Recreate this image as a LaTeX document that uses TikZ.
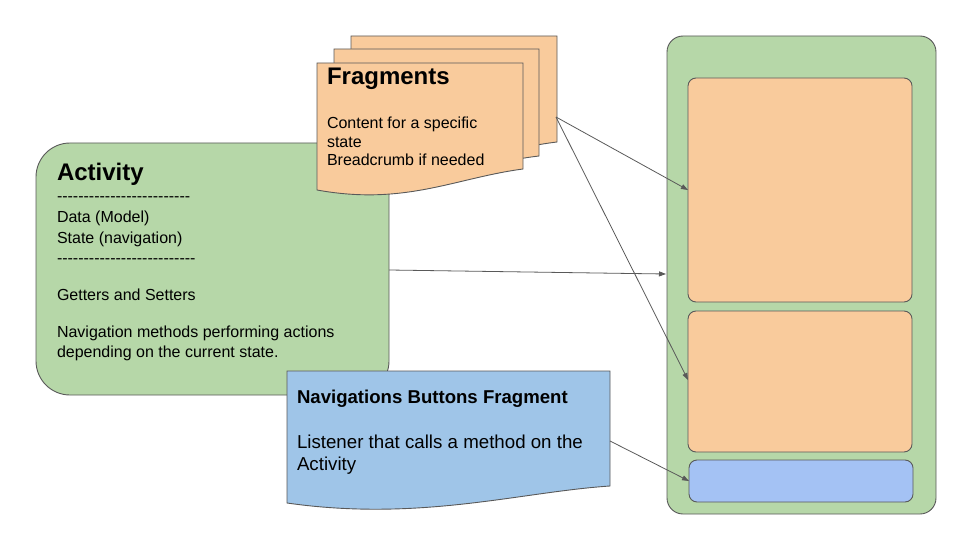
\documentclass[tikz,border=0pt]{standalone}
\usepackage{fontspec}
\setmainfont{Liberation Sans}
\usetikzlibrary{arrows.meta}
\definecolor{grn}{HTML}{B6D7A8}
\definecolor{org}{HTML}{F9CB9C}
\definecolor{navb}{HTML}{9FC5E8}
\definecolor{phb}{HTML}{A4C2F4}
\definecolor{edge}{HTML}{595959}
\tikzset{
  shp/.style={draw=edge, line width=0.9pt},
  txt/.style={anchor=base west, inner sep=0pt, outer sep=0pt, font=\fontsize{16}{19}\selectfont},
  ntx/.style={anchor=base west, inner sep=0pt, outer sep=0pt, font=\fontsize{18.7}{22}\selectfont},
  ttl/.style={anchor=base west, inner sep=0pt, outer sep=0pt, font=\fontsize{24}{28}\selectfont\bfseries},
  ntl/.style={anchor=base west, inner sep=0pt, outer sep=0pt, font=\fontsize{18.6}{22}\selectfont\bfseries},
  conn/.style={draw=edge, line width=0.8pt, -{Triangle[length=7pt,width=5pt]}}
}
\begin{document}
\begin{tikzpicture}[x=1pt,y=-1pt]
\useasboundingbox (0,0) rectangle (960,540);
% right phone
\draw[shp, fill=grn, rounded corners=16pt] (667,36) rectangle (936,514);
\draw[shp, fill=org, rounded corners=8pt] (688,78) rectangle (912,302);
\draw[shp, fill=org, rounded corners=8pt] (688,311) rectangle (912,452);
\draw[shp, fill=phb, rounded corners=8pt] (689,460) rectangle (913,502);
\coordinate (top1) at (688,190);
\coordinate (top2) at (688,380);
\coordinate (phl) at (666,274);
\coordinate (btn) at (689,481);
% activity
\draw[shp, fill=grn, rounded corners=34pt] (36,143) rectangle (389,395);
\coordinate (actR) at (389,270);
\node[ttl] (a0) at (57,181) {Activity};
\node[txt] (a1) at (57,201) {-{}-{}-{}-{}-{}-{}-{}-{}-{}-{}-{}-{}-{}-{}-{}-{}-{}-{}-{}-{}-{}-{}-{}-{}-};
\node[txt] (a2) at (57,222) {Data (Model)};
\node[txt] (a3) at (57,243) {State (navigation)};
\node[txt] (a4) at (57,263) {-{}-{}-{}-{}-{}-{}-{}-{}-{}-{}-{}-{}-{}-{}-{}-{}-{}-{}-{}-{}-{}-{}-{}-{}-{}-};
\node[txt] (a5) at (57,300) {Getters and Setters};
\node[txt] (a6) at (57,337) {Navigation methods performing actions};
\node[txt] (a7) at (57,357) {depending on the current state.};
% fragments stack
\draw[shp, fill=org] (351,36) -- (557,36) -- (557,142) .. controls (490,150) and (440,178) .. (351,165) -- cycle;
\draw[shp, fill=org] (334,49) -- (539,49) -- (539,156) .. controls (470,164) and (420,192) .. (334,178) -- cycle;
\draw[shp, fill=org] (317,63) -- (523,63) -- (523,169) .. controls (455,178) and (405,206) .. (317,190) -- cycle;
\coordinate (frR) at (556,117);
\node[ttl] (f0) at (327,85) {Fragments};
\node[txt] (f1) at (327,129) {Content for a specific};
\node[txt] (f2) at (327,148) {state};
\node[txt] (f3) at (327,166) {Breadcrumb if needed};
% nav buttons fragment
\draw[shp, fill=navb] (287,371) -- (610,371) -- (610,486) .. controls (520,492) and (420,522) .. (287,503) -- cycle;
\coordinate (navR) at (610,441);
\node[ntl] (n0) at (297,403.5) {Navigations Buttons Fragment};
\node[ntx] (n1) at (297,448) {Listener that calls a method on the};
\node[ntx] (n2) at (297,470) {Activity};
% connectors
\draw[conn] (frR) -- (top1);
\draw[conn] (frR) -- (top2);
\draw[conn] (actR) -- (phl);
\draw[conn] (navR) -- (btn);
\end{tikzpicture}
\end{document}
